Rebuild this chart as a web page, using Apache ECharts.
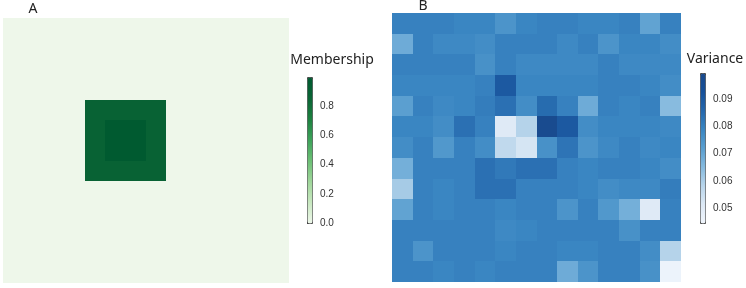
<!DOCTYPE html>
<html>
<head>
<meta charset="utf-8">
<title></title>
<script type="text/javascript" src="https://cdn.jsdelivr.net/npm/echarts@6/dist/echarts.min.js"></script>
</head>
<body style="margin:0;background:#fff;">

<div id="main" style="width: 746px;height:288px;"></div>

<script type="text/javascript">

// 14 columns x 13 rows, row 0 is the top row
let COLS = [0,1,2,3,4,5,6,7,8,9,10,11,12,13];
let ROWS = [0,1,2,3,4,5,6,7,8,9,10,11,12];

let MEMBERSHIP = [
	[0,0,0,0,0,0,0,0,0,0,0,0,0,0],
	[0,0,0,0,0,0,0,0,0,0,0,0,0,0],
	[0,0,0,0,0,0,0,0,0,0,0,0,0,0],
	[0,0,0,0,0,0,0,0,0,0,0,0,0,0],
	[0,0,0,0,0.9,0.9,0.9,0.9,0,0,0,0,0,0],
	[0,0,0,0,0.9,1.0,1.0,0.9,0,0,0,0,0,0],
	[0,0,0,0,0.9,1.0,1.0,0.9,0,0,0,0,0,0],
	[0,0,0,0,0.9,0.9,0.9,0.9,0,0,0,0,0,0],
	[0,0,0,0,0,0,0,0,0,0,0,0,0,0],
	[0,0,0,0,0,0,0,0,0,0,0,0,0,0],
	[0,0,0,0,0,0,0,0,0,0,0,0,0,0],
	[0,0,0,0,0,0,0,0,0,0,0,0,0,0],
	[0,0,0,0,0,0,0,0,0,0,0,0,0,0]
];

let VARIANCE = [
	[0.080,0.080,0.080,0.079,0.079,0.075,0.079,0.080,0.080,0.079,0.079,0.080,0.071,0.080],
	[0.069,0.080,0.078,0.078,0.077,0.080,0.080,0.080,0.078,0.080,0.075,0.079,0.079,0.077],
	[0.080,0.080,0.080,0.080,0.076,0.080,0.078,0.078,0.078,0.078,0.080,0.078,0.078,0.078],
	[0.079,0.079,0.079,0.079,0.080,0.090,0.079,0.079,0.079,0.079,0.080,0.080,0.079,0.077],
	[0.072,0.080,0.078,0.079,0.081,0.084,0.077,0.085,0.080,0.069,0.080,0.079,0.080,0.065],
	[0.079,0.079,0.077,0.084,0.080,0.051,0.059,0.098,0.090,0.077,0.079,0.079,0.079,0.078],
	[0.077,0.080,0.074,0.080,0.077,0.057,0.053,0.076,0.083,0.075,0.078,0.080,0.078,0.079],
	[0.068,0.080,0.080,0.080,0.084,0.082,0.084,0.084,0.080,0.079,0.080,0.080,0.079,0.077],
	[0.061,0.080,0.079,0.080,0.084,0.084,0.080,0.080,0.080,0.079,0.077,0.078,0.078,0.081],
	[0.071,0.080,0.079,0.080,0.080,0.079,0.080,0.080,0.075,0.080,0.074,0.068,0.051,0.080],
	[0.080,0.080,0.080,0.080,0.080,0.078,0.079,0.080,0.080,0.080,0.080,0.076,0.080,0.080],
	[0.080,0.075,0.080,0.080,0.080,0.079,0.080,0.080,0.079,0.079,0.080,0.080,0.077,0.059],
	[0.080,0.080,0.079,0.080,0.079,0.080,0.080,0.080,0.069,0.075,0.080,0.080,0.076,0.046]
];

let MEMBERSHIP_TICKS = [0, 0.2, 0.4, 0.6, 0.8];
let VARIANCE_TICKS = [0.05, 0.06, 0.07, 0.08, 0.09];
let MEMBERSHIP_RANGE = [0, 1];
let VARIANCE_RANGE = [0.0447, 0.0995];

let GREENS = ['#eef7ea','#c8e8c0','#9fd69a','#6cbf75','#3ea35a','#1d8140','#0b6535','#005a30'];
let BLUES = ['#f0f5fc','#dde9f5','#b9d5eb','#86badf','#5a9fd0','#3a86c2','#2568ad','#16509a','#1a4a8c'];

function toCells(grid){
	let cells = [];
	grid.forEach((row, r) => {
		row.forEach((v, c) => cells.push([c, r, v]));
	});
	return cells;
}

// heatmap cell snapped to whole pixels so neighbours don't leave seams
function cellRect(params, api){
	let p = api.coord([api.value(0), api.value(1)]);
	let s = api.size([1, 1]);
	let x0 = Math.round(p[0] - s[0] / 2), x1 = Math.round(p[0] + s[0] / 2);
	let y0 = Math.round(p[1] - s[1] / 2), y1 = Math.round(p[1] + s[1] / 2);
	return {
		type: 'rect',
		shape: { x: x0, y: y0, width: x1 - x0, height: y1 - y0 },
		style: { fill: api.visual('color') }
	};
}

function hiddenCat(idx, data, inverse){
	return {
		type: 'category', gridIndex: idx, data: data, inverse: !!inverse,
		show: false, axisLine: { show: false }, axisTick: { show: false }, splitArea: { show: false }
	};
}

function barAxis(idx, range, ticks, digits){
	return {
		type: 'value', gridIndex: idx, position: 'right',
		min: range[0], max: range[1],
		axisLine: { show: false },
		splitLine: { show: false },
		axisTick: { show: true, length: 4, customValues: ticks, lineStyle: { color: '#444', width: 1 } },
		axisLabel: {
			show: true, margin: 8, customValues: ticks,
			color: '#333', fontSize: 10, fontFamily: 'Liberation Sans',
			formatter: (v) => v.toFixed(digits)
		}
	};
}

var myChart = echarts.init(document.getElementById('main'));

var option = {
	backgroundColor: '#fff',
	animation: false,
	title: [
		{ text: 'A', left: 33, top: 2, textAlign: 'center', padding: 0,
			textStyle: { fontSize: 14, fontWeight: 'normal', color: '#222', fontFamily: 'Noto Sans' } },
		{ text: 'B', left: 423, top: -1, textAlign: 'center', padding: 0,
			textStyle: { fontSize: 14, fontWeight: 'normal', color: '#222', fontFamily: 'Noto Sans' } },
		{ text: 'Membership', left: 332, top: 53, textAlign: 'center', padding: 0,
			textStyle: { fontSize: 14, fontWeight: 'normal', color: '#222', fontFamily: 'Noto Sans' } },
		{ text: 'Variance', left: 715, top: 52, textAlign: 'center', padding: 0,
			textStyle: { fontSize: 14, fontWeight: 'normal', color: '#222', fontFamily: 'Noto Sans' } }
	],
	grid: [
		{ left: 3, top: 18, width: 286, height: 265 },
		{ left: 392, top: 13, width: 289, height: 269 },
		{ left: 307, top: 77, width: 5, height: 146 },
		{ left: 700, top: 73, width: 5, height: 150 }
	],
	xAxis: [
		hiddenCat(0, COLS),
		hiddenCat(1, COLS),
		{ type: 'value', gridIndex: 2, show: false },
		{ type: 'value', gridIndex: 3, show: false }
	],
	yAxis: [
		hiddenCat(0, ROWS, true),
		hiddenCat(1, ROWS, true),
		barAxis(2, MEMBERSHIP_RANGE, MEMBERSHIP_TICKS, 1),
		barAxis(3, VARIANCE_RANGE, VARIANCE_TICKS, 2)
	],
	visualMap: [
		{
			type: 'continuous', seriesIndex: 0, dimension: 2,
			min: MEMBERSHIP_RANGE[0], max: MEMBERSHIP_RANGE[1],
			calculable: false, hoverLink: false,
			left: 307, top: 77, itemWidth: 5, itemHeight: 146, padding: 0,
			borderColor: '#444', borderWidth: 1,
			inRange: { color: GREENS }
		},
		{
			type: 'continuous', seriesIndex: 1, dimension: 2,
			min: VARIANCE_RANGE[0], max: VARIANCE_RANGE[1],
			calculable: false, hoverLink: false,
			left: 700, top: 73, itemWidth: 5, itemHeight: 150, padding: 0,
			borderColor: '#444', borderWidth: 1,
			inRange: { color: BLUES }
		}
	],
	series: [
		{ type: 'custom', xAxisIndex: 0, yAxisIndex: 0, renderItem: cellRect,
			encode: { x: 0, y: 1 }, data: toCells(MEMBERSHIP) },
		{ type: 'custom', xAxisIndex: 1, yAxisIndex: 1, renderItem: cellRect,
			encode: { x: 0, y: 1 }, data: toCells(VARIANCE) }
	]
};

myChart.setOption(option);

</script>

</body>
</html>
